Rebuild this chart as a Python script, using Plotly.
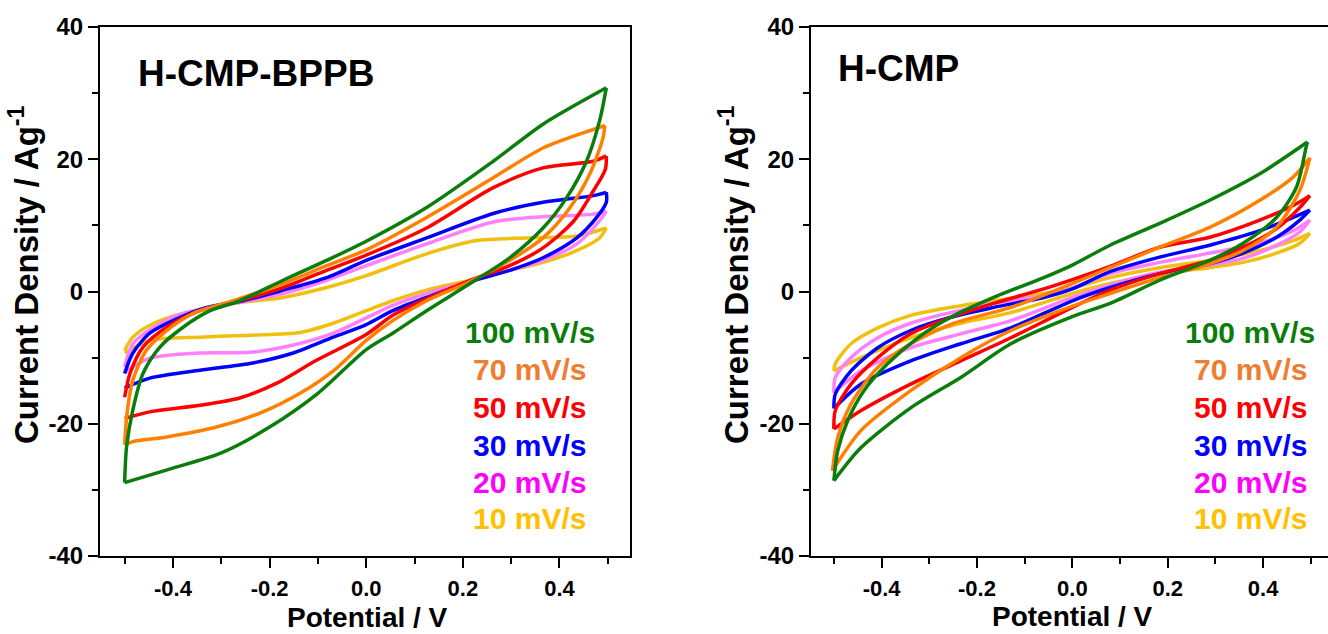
import plotly.graph_objects as go

# ---------------- data ----------------
rates = ["100 mV/s", "70 mV/s", "50 mV/s", "30 mV/s", "20 mV/s", "10 mV/s"]
line_colors = ["#0a7d0a", "#ff7f00", "#ff0000", "#0000ff", "#ff80ff", "#f0c010"]
label_colors = ["#0a7d0a", "#ed7d31", "#ff0000", "#0000ff", "#ff00ff", "#ffc000"]

panel_titles = ["H-CMP-BPPB", "H-CMP"]
x_title = "Potential / V"
y_title = "Current Density / Ag<sup>-1</sup>"

x_tick_vals = [-0.4, -0.2, 0.0, 0.2, 0.4]
x_tick_text = ["-0.4", "-0.2", "0.0", "0.2", "0.4"]
x_minor_vals = [-0.5, -0.3, -0.1, 0.1, 0.3, 0.5]
y_tick_vals = [-40, -20, 0, 20, 40]
y_tick_text = ["-40", "-20", "0", "20", "40"]
y_minor_vals = [-30, -10, 10, 30]

# H-CMP-BPPB : anodic (upper) and cathodic (lower) branches
bppb_100_up_x = [-0.5, -0.496, -0.483, -0.462, -0.427, -0.379, -0.323, -0.262, -0.172, -0.082, 0.0, 0.125, 0.263, 0.366, 0.497]
bppb_100_up_y = [-28.9, -23.5, -17.9, -12.4, -8.4, -5.4, -2.9, -1.4, 1.7, 4.7, 7.6, 12.7, 19.7, 25.3, 30.8]
bppb_100_dn_x = [0.497, 0.483, 0.456, 0.415, 0.366, 0.297, 0.215, 0.125, 0.055, 0.0, -0.1, -0.2, -0.3, -0.4, -0.5]
bppb_100_dn_y = [30.8, 25.8, 19.7, 14.2, 9.6, 5.1, 1.2, -2.9, -6.3, -8.8, -15.4, -20.5, -24.4, -26.7, -28.9]

bppb_70_up_x = [-0.5, -0.495, -0.483, -0.455, -0.413, -0.358, -0.275, -0.172, -0.082, 0.0, 0.125, 0.263, 0.366, 0.47, 0.494]
bppb_70_up_y = [-23.2, -18.4, -13.4, -8.9, -5.9, -3.3, -1.4, 1.2, 3.9, 6.3, 11.2, 17.2, 21.7, 24.5, 25.1]
bppb_70_dn_x = [0.494, 0.49, 0.463, 0.422, 0.366, 0.297, 0.215, 0.125, 0.055, 0.0, -0.068, -0.137, -0.22, -0.31, -0.413, -0.483, -0.5]
bppb_70_dn_y = [25.1, 23.2, 17.8, 12.7, 8.1, 4.7, 1.5, -1.4, -4.4, -7.4, -12.0, -15.4, -18.4, -20.5, -22.0, -22.7, -23.2]

bppb_50_up_x = [-0.5, -0.489, -0.462, -0.413, -0.344, -0.262, -0.172, -0.082, 0.0, 0.125, 0.263, 0.366, 0.47, 0.497]
bppb_50_up_y = [-16.0, -12.4, -8.4, -5.4, -2.9, -1.4, 0.6, 3.2, 5.5, 9.6, 15.7, 18.7, 19.7, 20.5]
bppb_50_dn_x = [0.497, 0.495, 0.47, 0.43, 0.366, 0.297, 0.215, 0.125, 0.055, 0.0, -0.103, -0.186, -0.262, -0.344, -0.448, -0.5]
bppb_50_dn_y = [20.5, 18.5, 15.2, 10.7, 6.6, 3.9, 1.7, -1.1, -3.6, -6.5, -10.4, -13.9, -16.1, -17.2, -18.2, -19.2]

bppb_30_up_x = [-0.5, -0.483, -0.448, -0.4, -0.33, -0.255, -0.172, -0.082, 0.0, 0.125, 0.263, 0.366, 0.47, 0.497]
bppb_30_up_y = [-12.4, -9.3, -6.3, -4.4, -2.4, -1.4, 0.2, 2.1, 4.7, 8.1, 11.8, 13.5, 14.5, 15.0]
bppb_30_dn_x = [0.497, 0.497, 0.477, 0.436, 0.366, 0.297, 0.215, 0.125, 0.055, 0.0, -0.068, -0.151, -0.241, -0.344, -0.448, -0.5]
bppb_30_dn_y = [15.0, 13.5, 11.2, 8.1, 5.1, 3.2, 1.5, -0.9, -2.9, -5.0, -6.9, -9.3, -10.9, -11.9, -13.1, -14.6]

bppb_20_up_x = [-0.5, -0.483, -0.44, -0.379, -0.275, -0.172, -0.082, 0.0, 0.125, 0.263, 0.366, 0.47, 0.497]
bppb_20_up_y = [-11.4, -7.9, -5.4, -3.3, -1.8, -0.3, 1.7, 3.9, 7.2, 10.5, 11.3, 11.7, 12.2]
bppb_20_dn_x = [0.497, 0.483, 0.436, 0.366, 0.297, 0.215, 0.125, 0.055, 0.0, -0.068, -0.151, -0.241, -0.344, -0.448, -0.5]
bppb_20_dn_y = [12.2, 10.7, 7.2, 4.7, 3.2, 1.5, -0.3, -2.1, -4.0, -6.3, -8.1, -9.2, -9.3, -10.1, -12.2]

bppb_10_up_x = [-0.5, -0.483, -0.44, -0.379, -0.275, -0.172, -0.082, 0.0, 0.125, 0.228, 0.332, 0.436, 0.497]
bppb_10_up_y = [-8.9, -6.9, -4.8, -3.3, -1.8, -0.9, 0.6, 2.4, 5.7, 7.7, 8.1, 8.4, 9.6]
bppb_10_dn_x = [0.497, 0.483, 0.436, 0.366, 0.297, 0.215, 0.125, 0.055, 0.0, -0.068, -0.137, -0.241, -0.344, -0.448, -0.5]
bppb_10_dn_y = [9.6, 8.1, 6.2, 4.4, 3.2, 1.7, 0.2, -1.4, -2.9, -4.8, -6.2, -6.6, -6.9, -7.4, -9.3]

# H-CMP
hcmp_100_up_x = [-0.5, -0.492, -0.471, -0.437, -0.387, -0.324, -0.255, -0.165, -0.06, 0.0, 0.079, 0.183, 0.288, 0.393, 0.493]
hcmp_100_up_y = [-28.6, -24.1, -19.5, -15.0, -10.9, -7.0, -3.9, -0.9, 2.1, 4.0, 7.0, 10.3, 13.8, 17.8, 22.6]
hcmp_100_dn_x = [0.493, 0.49, 0.47, 0.428, 0.358, 0.288, 0.183, 0.079, 0.0, -0.129, -0.234, -0.339, -0.443, -0.5]
hcmp_100_dn_y = [22.6, 21.8, 15.8, 11.2, 7.3, 4.7, 1.7, -1.8, -3.8, -7.9, -13.0, -17.6, -23.6, -28.6]

hcmp_70_up_x = [-0.503, -0.492, -0.464, -0.408, -0.339, -0.248, -0.129, 0.0, 0.079, 0.183, 0.288, 0.393, 0.463, 0.498]
hcmp_70_up_y = [-27.1, -22.1, -17.0, -11.5, -7.9, -4.8, -2.4, 1.2, 3.6, 6.7, 9.7, 13.8, 17.3, 20.2]
hcmp_70_dn_x = [0.498, 0.477, 0.428, 0.358, 0.288, 0.183, 0.079, 0.0, -0.129, -0.234, -0.339, -0.443, -0.503]
hcmp_70_dn_y = [20.2, 15.3, 9.7, 6.2, 4.2, 2.1, -0.3, -2.2, -5.9, -10.0, -15.0, -21.0, -27.1]

hcmp_50_up_x = [-0.5, -0.497, -0.464, -0.408, -0.339, -0.255, -0.165, -0.06, 0.0, 0.079, 0.183, 0.288, 0.393, 0.463, 0.498]
hcmp_50_up_y = [-20.8, -18.0, -14.0, -10.0, -6.4, -3.9, -1.8, 0.4, 1.8, 3.8, 6.7, 8.2, 10.8, 13.0, 14.5]
hcmp_50_dn_x = [0.498, 0.477, 0.428, 0.358, 0.288, 0.183, 0.079, 0.0, -0.129, -0.234, -0.339, -0.443, -0.5]
hcmp_50_dn_y = [14.5, 12.7, 9.5, 6.7, 4.7, 2.7, 0.2, -2.4, -7.0, -10.5, -14.0, -18.0, -20.8]

hcmp_30_up_x = [-0.5, -0.497, -0.464, -0.408, -0.339, -0.255, -0.165, -0.06, 0.0, 0.079, 0.183, 0.288, 0.393, 0.463, 0.498]
hcmp_30_up_y = [-17.7, -15.5, -12.0, -8.5, -5.9, -3.9, -2.4, -0.9, 0.4, 3.0, 5.2, 7.0, 9.2, 11.2, 12.3]
hcmp_30_dn_x = [0.498, 0.477, 0.428, 0.358, 0.288, 0.183, 0.079, 0.0, -0.129, -0.234, -0.339, -0.443, -0.5]
hcmp_30_dn_y = [12.3, 10.8, 8.2, 5.8, 4.2, 2.7, 0.6, -1.4, -5.5, -7.9, -10.5, -14.0, -17.7]

hcmp_20_up_x = [-0.5, -0.497, -0.464, -0.408, -0.339, -0.255, -0.165, -0.06, 0.0, 0.079, 0.183, 0.288, 0.393, 0.463, 0.498]
hcmp_20_up_y = [-15.3, -13.0, -10.0, -7.0, -4.8, -3.2, -1.8, -0.6, 0.5, 2.7, 4.4, 5.8, 7.3, 9.2, 10.8]
hcmp_20_dn_x = [0.498, 0.477, 0.428, 0.358, 0.288, 0.183, 0.079, 0.0, -0.129, -0.234, -0.339, -0.443, -0.5]
hcmp_20_dn_y = [10.8, 9.0, 7.0, 5.0, 4.0, 2.9, 1.0, -0.9, -4.4, -6.4, -8.5, -12.0, -15.3]

hcmp_10_up_x = [-0.5, -0.497, -0.464, -0.408, -0.339, -0.255, -0.165, -0.06, 0.0, 0.079, 0.183, 0.288, 0.393, 0.463, 0.498]
hcmp_10_up_y = [-12.0, -10.9, -7.9, -5.5, -3.6, -2.4, -1.4, -0.3, 0.5, 2.1, 3.6, 4.7, 6.2, 7.7, 8.8]
hcmp_10_dn_x = [0.498, 0.477, 0.428, 0.358, 0.288, 0.183, 0.079, 0.0, -0.129, -0.234, -0.339, -0.443, -0.5]
hcmp_10_dn_y = [8.8, 7.3, 5.8, 4.4, 3.6, 2.7, 1.2, -0.3, -3.2, -4.8, -7.0, -10.0, -12.0]

bppb_curves = [
    (bppb_100_up_x, bppb_100_up_y, bppb_100_dn_x, bppb_100_dn_y),
    (bppb_70_up_x, bppb_70_up_y, bppb_70_dn_x, bppb_70_dn_y),
    (bppb_50_up_x, bppb_50_up_y, bppb_50_dn_x, bppb_50_dn_y),
    (bppb_30_up_x, bppb_30_up_y, bppb_30_dn_x, bppb_30_dn_y),
    (bppb_20_up_x, bppb_20_up_y, bppb_20_dn_x, bppb_20_dn_y),
    (bppb_10_up_x, bppb_10_up_y, bppb_10_dn_x, bppb_10_dn_y),
]
hcmp_curves = [
    (hcmp_100_up_x, hcmp_100_up_y, hcmp_100_dn_x, hcmp_100_dn_y),
    (hcmp_70_up_x, hcmp_70_up_y, hcmp_70_dn_x, hcmp_70_dn_y),
    (hcmp_50_up_x, hcmp_50_up_y, hcmp_50_dn_x, hcmp_50_dn_y),
    (hcmp_30_up_x, hcmp_30_up_y, hcmp_30_dn_x, hcmp_30_dn_y),
    (hcmp_20_up_x, hcmp_20_up_y, hcmp_20_dn_x, hcmp_20_dn_y),
    (hcmp_10_up_x, hcmp_10_up_y, hcmp_10_dn_x, hcmp_10_dn_y),
]

# ---------------- figure ----------------
W, H = 1328, 634
FONT = "Liberation Sans, Arial, sans-serif"

def px(x):
    return x / W

def py(y):
    return 1 - y / H

fig = go.Figure()

for panel, curves in enumerate([bppb_curves, hcmp_curves]):
    xa = "x" if panel == 0 else "x2"
    ya = "y" if panel == 0 else "y2"
    for i in reversed(range(len(curves))):
        ux, uy, dx, dy = curves[i]
        for xs, ys in ((ux, uy), (dx, dy)):
            fig.add_trace(go.Scatter(
                x=xs, y=ys, mode="lines", xaxis=xa, yaxis=ya,
                line=dict(color=line_colors[i], width=3.5, shape="spline", smoothing=0.8),
                showlegend=False, hoverinfo="skip"))

tickfont = dict(family=FONT, size=22, color="black", weight="bold")
common_x = dict(
    tickmode="array", tickvals=x_tick_vals, ticktext=x_tick_text,
    ticks="outside", ticklen=10, tickwidth=2, tickcolor="black",
    showline=True, linewidth=2, linecolor="black", mirror=True,
    showgrid=False, zeroline=False, tickfont=tickfont, automargin=False,
    ticklabelstandoff=2,
    minor=dict(tickmode="array", tickvals=x_minor_vals, ticks="outside",
               ticklen=6, tickwidth=2, tickcolor="black", showgrid=False),
)
common_y = dict(
    tickmode="array", tickvals=y_tick_vals, ticktext=y_tick_text, range=[-40, 40],
    ticks="outside", ticklen=10, tickwidth=2, tickcolor="black",
    showline=True, linewidth=2, linecolor="black",
    showgrid=False, zeroline=False, tickfont=dict(family=FONT, size=24, color="black", weight="bold"),
    automargin=False,
    minor=dict(tickmode="array", tickvals=y_minor_vals, ticks="outside",
               ticklen=6, tickwidth=2, tickcolor="black", showgrid=False),
)

ydom = [py(556), py(27)]
fig.update_layout(
    template="none",
    width=W, height=H,
    autosize=False,
    margin=dict(l=0, r=0, t=0, b=0, pad=0, autoexpand=False),
    paper_bgcolor="white", plot_bgcolor="white",
    showlegend=False,
    font=dict(family=FONT, color="black"),
    xaxis=dict(domain=[px(100), px(630)], range=[-0.551, 0.546], anchor="y", **common_x),
    yaxis=dict(domain=ydom, anchor="x", mirror=True, **common_y),
    xaxis2=dict(domain=[px(811), 1.0], range=[-0.548, 0.536], anchor="y2", **common_x),
    yaxis2=dict(domain=ydom, anchor="x2", mirror=False, **common_y),
)

ann = []
ann.append(dict(text=panel_titles[0], x=px(255.5), y=py(74), xref="paper", yref="paper",
                xanchor="center", yanchor="middle", showarrow=False,
                font=dict(family=FONT, size=37, color="black", weight="bold")))
ann.append(dict(text=panel_titles[1], x=px(898), y=py(68), xref="paper", yref="paper",
                xanchor="center", yanchor="middle", showarrow=False,
                font=dict(family=FONT, size=37, color="black", weight="bold")))
for cx, cy in ((367, 617), (1072, 616)):
    ann.append(dict(text=x_title, x=px(cx), y=py(cy), xref="paper", yref="paper",
                    xanchor="center", yanchor="middle", showarrow=False,
                    font=dict(family=FONT, size=28, color="black", weight="bold")))
for cx, cy in ((24, 275), (734, 275)):
    ann.append(dict(text=y_title, x=px(cx), y=py(cy), xref="paper", yref="paper",
                    xanchor="center", yanchor="middle", showarrow=False, textangle=-90,
                    font=dict(family=FONT, size=33, color="black", weight="bold")))
label_y = [332, 369, 407, 445, 482, 518]
for cx in (529.5, 1250):
    for i, r in enumerate(rates):
        ann.append(dict(text=r, x=px(cx), y=py(label_y[i]), xref="paper", yref="paper",
                        xanchor="center", yanchor="middle", showarrow=False,
                        font=dict(family=FONT, size=30, color=label_colors[i], weight="bold")))
fig.update_layout(annotations=ann)

fig.write_html("out.html", config={"displayModeBar": False},
               post_script="document.body.style.margin='0';")
